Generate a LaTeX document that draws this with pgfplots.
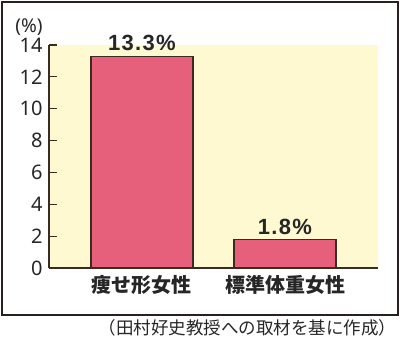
\documentclass[border=0pt]{standalone}
\usepackage{pgfplots}
\pgfplotsset{compat=1.18}
\usepackage{fontspec}
\setmainfont{Noto Sans}
\newfontfamily\cjk{Noto Sans CJK JP}
\newfontfamily\numfont[LetterSpace=6]{Liberation Sans}
\definecolor{barpink}{HTML}{E65F7B}
\definecolor{bgyellow}{HTML}{FFF9D2}
\definecolor{edge}{HTML}{3A2A22}
\definecolor{framec}{HTML}{2B1E1E}
\begin{document}
\begin{tikzpicture}[x=1pt,y=1pt]
\path[use as bounding box] (0,0) rectangle (400,-340);
\draw[framec, line width=2pt] (1.5,-1.5) rectangle (397.5,-315);
\begin{axis}[
 at={(49pt,-268pt)}, anchor=south west,
 scale only axis, width=329pt, height=223pt,
 xmin=-0.65, xmax=1.65, ymin=0, ymax=14,
 axis x line*=bottom, axis y line*=left,
 axis line style={edge, line width=1.2pt, -},
 axis background/.style={fill=bgyellow},
 ytick={0,2,...,14},
 xtick={0,1}, xticklabels={痩せ形女性,標準体重女性},
 major tick length=8pt, tick align=inside,
 tick style={edge, line width=1.2pt},
 xtick style={draw=none},
 /pgf/number format/assume math mode=true,
 yticklabel style={font=\fontsize{20}{20}\selectfont, text=black!85, xshift=-3pt},
 xticklabel style={font=\cjk\bfseries\fontsize{20}{20}\selectfont, text=black!85, yshift=-4pt},
 point meta=explicit symbolic,
 nodes near coords={\numfont\bfseries\fontsize{22}{22}\selectfont\pgfplotspointmeta},
 nodes near coords style={text=black!85, anchor=south, yshift=1pt},
]
\addplot[ybar, bar width=102pt, fill=barpink, draw=edge, line width=1.2pt]
 coordinates {(0,13.3) [13.3\%] (1,1.8) [1.8\%]};
\end{axis}
\node[font=\fontsize{19}{19}\selectfont, text=black!85] at (29,-27) {(\%)};
\node[font=\cjk\fontsize{17.5}{17.5}\selectfont, text=black!85, anchor=east] at (400,-328) {（田村好史教授への取材を基に作成）};
\end{tikzpicture}
\end{document}
